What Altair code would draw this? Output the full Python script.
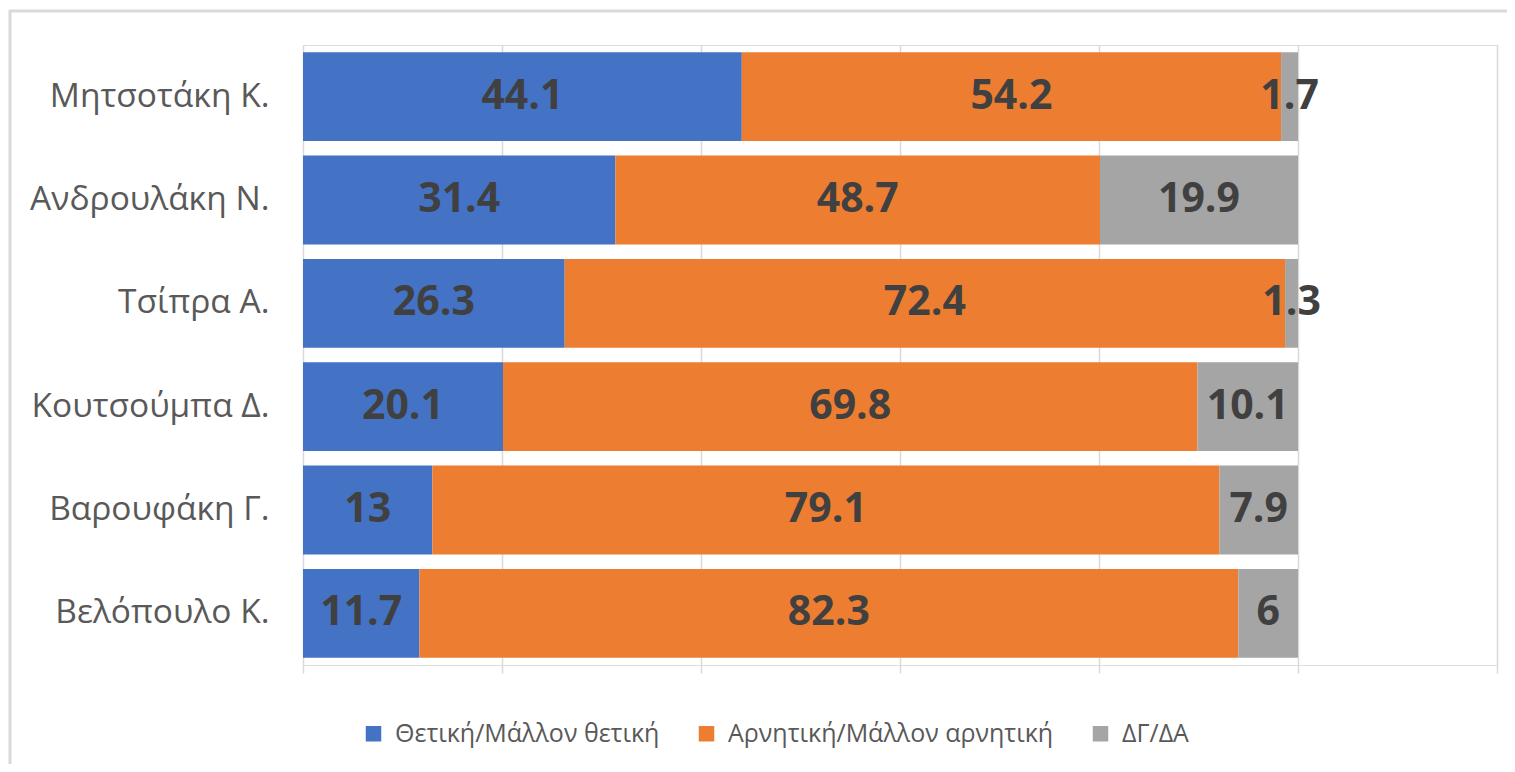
import altair as alt
import pandas as pd

names = ["Μητσοτάκη Κ.", "Ανδρουλάκη Ν.", "Τσίπρα Α.", "Κουτσούμπα Δ.", "Βαρουφάκη Γ.", "Βελόπουλο Κ."]
positive = [44.1, 31.4, 26.3, 20.1, 13, 11.7]
negative = [54.2, 48.7, 72.4, 69.8, 79.1, 82.3]
dkna = [1.7, 19.9, 1.3, 10.1, 7.9, 6]
series = ["Θετική/Μάλλον θετική", "Αρνητική/Μάλλον αρνητική", "ΔΓ/ΔΑ"]
colors = ["#4472C4", "#ED7D31", "#A5A5A5"]

rows = []
for i, n in enumerate(names):
    start = 0.0
    for k, vals in enumerate([positive, negative, dkna]):
        v = vals[i]
        rows.append({
            "name": n, "series": series[k], "order": k, "value": v,
            "start": start, "end": start + v, "mid": start + v / 2,
            "label": f"{v:g}",
        })
        start += v
df = pd.DataFrame(rows)

FONT = "Open Sans"

y_enc = alt.Y("name:N", sort=names, title=None,
              scale=alt.Scale(paddingInner=0.14, paddingOuter=0.07),
              axis=alt.Axis(domain=False, ticks=False, grid=False, labelFontSize=33.5,
                            labelColor="#595959", labelFont=FONT, labelPadding=34,
                            labelLimit=400))

bars = alt.Chart(df).mark_bar().encode(
    x=alt.X("start:Q", title=None,
            scale=alt.Scale(domain=[0, 120], nice=False),
            axis=alt.Axis(values=[0, 20, 40, 60, 80, 100, 120], labels=False, domain=False,
                          ticks=True, tickSize=8, tickColor="#d9d9d9", tickWidth=1.5,
                          grid=True, gridColor="#d9d9d9", gridWidth=1.5)),
    x2="end:Q",
    y=y_enc,
    color=alt.Color("series:N", sort=series,
                    scale=alt.Scale(domain=series, range=colors),
                    legend=alt.Legend(title=None, orient="none", direction="horizontal",
                                      legendX=58, legendY=676, symbolType="square",
                                      symbolSize=240, symbolStrokeWidth=0,
                                      labelFontSize=25, labelColor="#595959", labelFont=FONT,
                                      labelOffset=9, columnPadding=34, labelLimit=500)),
    order=alt.Order("order:Q"),
)

texts = alt.Chart(df).mark_text(fontSize=41, fontWeight="bold", color="#404040",
                                font=FONT, baseline="middle", align="center").encode(
    x=alt.X("mid:Q"),
    y=alt.Y("name:N", sort=names),
    text="label:N",
)

frame = pd.DataFrame({"a": [0]})
top_line = alt.Chart(frame).mark_rule(color="#d9d9d9", strokeWidth=3).encode(
    x=alt.value(-294), x2=alt.value(1210), y=alt.value(-34))
left_line = alt.Chart(frame).mark_rule(color="#d9d9d9", strokeWidth=3).encode(
    x=alt.value(-293), y=alt.value(-35), y2=alt.value(720))

chart = alt.layer(bars, texts, top_line, left_line).properties(
    width=1194, height=620,
    padding={"left": 295, "top": 37, "right": 10, "bottom": 99},
    autosize=alt.AutoSizeParams(type="none"),
).configure_view(stroke=None).configure(background="white")

chart.save("out.html", embed_options={"renderer": "svg", "actions": False})
